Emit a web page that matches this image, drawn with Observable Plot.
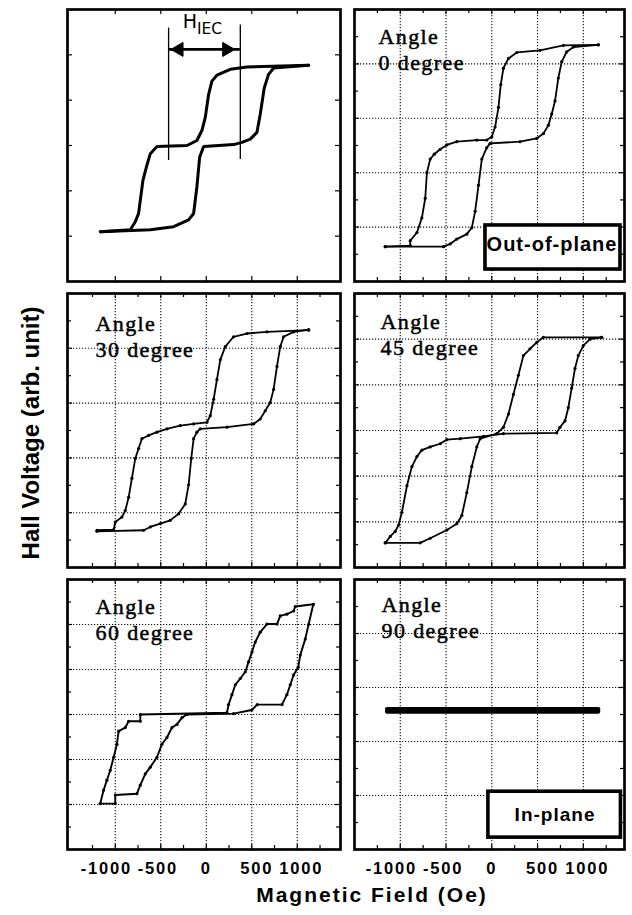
<!DOCTYPE html>
<html>
<head>
<meta charset="utf-8">
<script src="https://cdn.jsdelivr.net/npm/d3@7"></script>
<script src="https://cdn.jsdelivr.net/npm/@observablehq/plot@0.6"></script>
<style>
  html, body { margin: 0; padding: 0; background: #fff; }
  #fig { position: relative; width: 632px; height: 915px; overflow: hidden; background: #fff; }
  #fig .panel { position: absolute; }
  #fig svg { overflow: visible; }
  g[aria-description="ticklabel"] text { letter-spacing: 1.8px; }
  g[aria-description="anglelabel"] text { letter-spacing: 1.4px; }
  g[aria-description="boxlabel"] text { letter-spacing: 1px; }
  .title { position: absolute; font-family: "Liberation Sans", Arial, sans-serif; font-weight: bold; color: #000; white-space: nowrap; }
  #ytitle { left: 31px; top: 433px; font-size: 24px; line-height: 24px; transform: translate(-50%, -50%) rotate(-90deg); }
  #xtitle { left: 372px; top: 884px; font-size: 21px; line-height: 21px; letter-spacing: 2px; transform: translateX(-50%); }
</style>
</head>
<body>
<div id="fig"></div>
<script>
// ---------- tick values ----------
const xMajor = [-1000, -500, 0, 500, 1000];
const xMinor = [-1250, -750, -250, 250, 750, 1250];
const xTickText = ["-1000", "-500", "0", "500", "1000"];

// ---------- data: [field (Oe), Hall voltage (arb.)] ----------
// top-left panel (H_IEC definition)
const tlUp = [[-1165,1.10],[-835,1.14],[-780,1.32],[-744,1.50],[-725,1.79],[-696,2.23],[-659,2.52],[-615,2.82],[-542,2.98],[-212,3.00],[-103,3.11],[-48,3.33],[-11,3.62],[26,4.13],[62,4.42],[117,4.55],[264,4.68],[447,4.73],[1125,4.77]];
const tlDown = [[1125,4.77],[740,4.71],[685,4.57],[637,4.27],[593,3.69],[557,3.29],[484,3.14],[392,3.07],[300,3.02],[-29,2.98],[-73,2.74],[-103,2.09],[-139,1.50],[-194,1.36],[-359,1.21],[-615,1.14],[-1165,1.10]];
// angle 0
const a0Up = [[-1164,0.64],[-891,0.66],[-891,0.75],[-818,0.90],[-764,1.17],[-727,1.53],[-709,2.00],[-673,2.25],[-629,2.34],[-564,2.43],[-491,2.51],[-382,2.57],[-164,2.60],[-55,2.60],[0,2.66],[36,2.84],[73,3.20],[98,3.62],[127,3.92],[182,4.10],[273,4.21],[527,4.25],[782,4.34],[1164,4.35]];
const a0Down = [[1164,4.35],[891,4.31],[818,4.22],[764,4.04],[727,3.74],[691,3.32],[655,3.08],[618,2.87],[564,2.72],[491,2.63],[309,2.57],[-18,2.54],[-55,2.46],[-109,2.25],[-145,1.77],[-182,1.29],[-218,0.99],[-273,0.87],[-382,0.78],[-455,0.69],[-527,0.64],[-1164,0.64]];
// angle 30
const a30Up = [[-1201,0.68],[-1018,0.69],[-1000,0.83],[-927,0.92],[-890,1.04],[-853,1.28],[-817,1.63],[-780,1.99],[-744,2.17],[-707,2.35],[-634,2.41],[-542,2.47],[-432,2.53],[-286,2.59],[-139,2.62],[7,2.65],[44,2.77],[81,3.07],[117,3.43],[154,3.79],[209,4.03],[300,4.21],[447,4.27],[667,4.30],[1125,4.33]];
const a30Down = [[1125,4.34],[960,4.30],[850,4.21],[813,4.03],[777,3.67],[740,3.25],[703,3.01],[648,2.86],[593,2.71],[520,2.62],[227,2.56],[-66,2.53],[-103,2.47],[-139,2.35],[-165,1.99],[-194,1.51],[-231,1.16],[-304,0.98],[-396,0.86],[-505,0.80],[-615,0.74],[-689,0.68],[-1201,0.66]];
// angle 45
const a45Up = [[-1164,0.54],[-1109,0.68],[-1055,0.79],[-1018,0.93],[-982,1.21],[-927,1.79],[-873,2.21],[-818,2.43],[-764,2.57],[-673,2.64],[-564,2.71],[-491,2.80],[-345,2.82],[-91,2.87],[127,2.93],[709,2.95],[745,3.07],[800,3.21],[836,3.50],[873,3.93],[909,4.36],[945,4.64],[1000,4.86],[1073,5.00],[1200,5.04]];
const a45Down = [[1200,5.04],[564,5.04],[491,4.93],[418,4.79],[345,4.64],[291,4.21],[236,3.79],[182,3.36],[127,3.07],[55,2.93],[-127,2.82],[-164,2.64],[-218,2.21],[-273,1.64],[-327,1.14],[-382,0.96],[-491,0.82],[-673,0.64],[-782,0.54],[-1164,0.54]];
// angle 60
const a60Up = [[-1165,1.02],[-1000,1.02],[-1000,1.21],[-762,1.24],[-725,1.43],[-670,1.68],[-615,1.83],[-542,2.05],[-487,2.34],[-432,2.49],[-377,2.71],[-322,2.78],[-267,2.93],[-212,3.00],[300,3.02],[500,3.10],[560,3.22],[832,3.22],[886,3.44],[923,3.66],[960,3.88],[1010,4.05],[1033,4.32],[1088,4.68],[1124,5.00],[1176,5.45]];
const a60Down = [[1176,5.45],[978,5.40],[960,5.30],[886,5.23],[813,5.19],[777,5.01],[667,5.01],[593,4.83],[538,4.61],[502,4.39],[465,4.17],[429,3.95],[374,3.80],[319,3.66],[282,3.44],[245,3.22],[227,3.04],[-725,3.00],[-725,2.85],[-853,2.85],[-890,2.71],[-963,2.63],[-982,2.34],[-1018,2.05],[-1055,1.76],[-1092,1.54],[-1128,1.32],[-1165,1.02]];
// angle 90
const a90Up = [[-1145,2.60],[-600,2.60],[0,2.60],[600,2.60],[1164,2.60]];
const a90Down = [[1164,2.555],[600,2.555],[0,2.555],[-600,2.555],[-1145,2.555]];

// panel labels
const angleLabels = ["Angle\n0 degree", "Angle\n30 degree", "Angle\n45 degree", "Angle\n60 degree", "Angle\n90 degree"];

// H_IEC annotation (field, voltage)
const iecLines = [{h: -414, v1: 2.67, v2: 5.59}, {h: 374, v1: 2.69, v2: 5.66}];
const iecArrow = [{h1: -414, h2: 374, v: 5.12}];
const iecHeads = [{h: -300, v: 5.12, rot: -90}, {h: 225, v: 5.12, rot: 90}];
const iecText = [{h: -102, v: 5.59, t: "H"}];
const iecSub = [{h: -102, v: 5.45, t: "IEC"}];

// boxed notes
const outOfPlaneBox = [{h1: -69, h2: 1406, v1: 0.22, v2: 1.03, hc: 658, vt: 0.56, label: "Out-of-plane"}];
const inPlaneBox = [{h1: -37, h2: 1411, v1: 0.22, v2: 1.07, hc: 691, vt: 0.52, label: "In-plane"}];

// ---------- layout / style ----------
const tickTextShift = [-9, -3, 0, 5, 4];
const panels = [
  {left: 67,  top: 9,   w: 273, h: 272, xd: [-1525, 1475], yd: [0, 6], grid: false, up: tlUp,  down: tlDown,  sw: 3.0, label: null, iec: true},
  {left: 354, top: 9,   w: 270, h: 272, xd: [-1500, 1450], yd: [0, 5], grid: true,  up: a0Up,  down: a0Down,  sw: 1.8, dots: true, label: angleLabels[0], dx: 24, dy: 15, box: outOfPlaneBox, bfs: 20},
  {left: 67,  top: 293, w: 273, h: 274, xd: [-1525, 1475], yd: [0, 5], grid: true,  up: a30Up, down: a30Down, sw: 1.8, dots: true, label: angleLabels[1], dx: 28, dy: 18},
  {left: 354, top: 293, w: 270, h: 274, xd: [-1500, 1450], yd: [0, 6], grid: true,  up: a45Up, down: a45Down, sw: 1.8, dots: true, label: angleLabels[2], dx: 26, dy: 16},
  {left: 67,  top: 579, w: 273, h: 270, xd: [-1525, 1475], yd: [0, 6], grid: true,  up: a60Up, down: a60Down, sw: 1.9, dots: true, label: angleLabels[3], dx: 28, dy: 15, xaxis: true},
  {left: 354, top: 579, w: 270, h: 270, xd: [-1500, 1450], yd: [0, 5], grid: true,  up: a90Up, down: a90Down, sw: 4.2, label: angleLabels[4], dx: 27, dy: 13, xaxis: true, box: inPlaneBox, bfs: 19}
];

const fig = document.getElementById("fig");
const M = 4;

function makePanel(p) {
  const mb = p.xaxis ? 36 : M;
  const yMajor = d3.range(p.yd[0] + 1, p.yd[1]);
  const yMinor = d3.range(p.yd[0] + 0.5, p.yd[1], 1);
  const marks = [];
  if (p.grid) {
    marks.push(Plot.ruleX(xMajor, {x: d => d, stroke: "#111", strokeWidth: 1.1, strokeDasharray: "1.2,1.8"}));
    marks.push(Plot.ruleY(yMajor, {y: d => d, stroke: "#111", strokeWidth: 1.1, strokeDasharray: "1.2,1.8"}));
  }
  const tickSets = p.grid ? [[xMajor, yMajor, 5], [xMinor, yMinor, 4]] : [[xMajor, yMajor, 5]];
  for (const [xs, ys, len] of tickSets) {
    marks.push(Plot.tickX(xs, {x: d => d, insetTop: p.h - len, stroke: "black", strokeWidth: 1.2}));
    marks.push(Plot.tickX(xs, {x: d => d, insetBottom: p.h - len, stroke: "black", strokeWidth: 1.2}));
    marks.push(Plot.tickY(ys, {y: d => d, insetRight: p.w - len, stroke: "black", strokeWidth: 1.2}));
    marks.push(Plot.tickY(ys, {y: d => d, insetLeft: p.w - len, stroke: "black", strokeWidth: 1.2}));
  }
  if (p.label) {
    marks.push(Plot.text([p.label], {
      text: d => d, frameAnchor: "top-left", textAnchor: "start", lineAnchor: "top",
      dx: p.dx, dy: p.dy, lineHeight: 1.22, fontSize: 22, fontFamily: "'Liberation Serif', 'Times New Roman', serif",
      fill: "black", stroke: "black", strokeWidth: 0.5, ariaDescription: "anglelabel"
    }));
  }
  if (p.box) {
    marks.push(Plot.rect(p.box, {x1: "h1", x2: "h2", y1: "v1", y2: "v2", fill: "white", stroke: "black", strokeWidth: 3.6}));
    marks.push(Plot.text(p.box, {x: "hc", y: "vt", text: "label", lineAnchor: "bottom", fontSize: p.bfs, fontWeight: "bold",
      fontFamily: "'Liberation Sans', Arial, sans-serif", fill: "black", ariaDescription: "boxlabel"}));
  }
  if (p.iec) {
    marks.push(Plot.ruleX(iecLines, {x: "h", y1: "v1", y2: "v2", stroke: "black", strokeWidth: 1.3}));
    marks.push(Plot.ruleY(iecArrow, {y: "v", x1: "h1", x2: "h2", stroke: "black", strokeWidth: 2.6}));
    marks.push(Plot.dot(iecHeads, {x: "h", y: "v", rotate: "rot", symbol: "triangle", r: 5.2, fill: "black", stroke: "black", strokeWidth: 1}));
    marks.push(Plot.text(iecText, {x: "h", y: "v", text: "t", textAnchor: "end", lineAnchor: "bottom", fontSize: 19,
      fontFamily: "'DejaVu Sans', sans-serif", fill: "black"}));
    marks.push(Plot.text(iecSub, {x: "h", y: "v", text: "t", textAnchor: "start", lineAnchor: "bottom", fontSize: 15.5,
      fontFamily: "'DejaVu Sans', sans-serif", fill: "black"}));
  }
  marks.push(Plot.line(p.up, {x: d => d[0], y: d => d[1], stroke: "black", strokeWidth: p.sw, strokeLinejoin: "miter"}));
  marks.push(Plot.line(p.down, {x: d => d[0], y: d => d[1], stroke: "black", strokeWidth: p.sw, strokeLinejoin: "miter"}));
  if (p.dots) {
    marks.push(Plot.dot(p.up.concat(p.down), {x: d => d[0], y: d => d[1], r: 1.6, fill: "black", stroke: "none"}));
  }
  if (p.xaxis) {
    xMajor.forEach((v, i) => {
      marks.push(Plot.text([v], {x: d => d, text: () => xTickText[i], frameAnchor: "bottom", lineAnchor: "top", dy: 13, dx: tickTextShift[i],
        fontSize: 16.5, fontWeight: "bold", fontFamily: "'Liberation Sans', Arial, sans-serif", fill: "black", ariaDescription: "ticklabel"}));
    });
  }
  marks.push(Plot.frame({stroke: "black", strokeWidth: 2.7}));

  const svg = Plot.plot({
    width: p.w + 2 * M,
    height: p.h + M + mb,
    marginLeft: M, marginRight: M, marginTop: M, marginBottom: mb,
    x: {domain: p.xd, axis: null},
    y: {domain: p.yd, axis: null},
    style: {background: "transparent", overflow: "visible"},
    marks
  });
  const wrap = document.createElement("div");
  wrap.className = "panel";
  wrap.style.left = (p.left - M) + "px";
  wrap.style.top = (p.top - M) + "px";
  wrap.appendChild(svg);
  fig.appendChild(wrap);
}

panels.forEach(makePanel);

const yt = document.createElement("div");
yt.className = "title"; yt.id = "ytitle"; yt.textContent = "Hall Voltage (arb. unit)";
fig.appendChild(yt);
const xt = document.createElement("div");
xt.className = "title"; xt.id = "xtitle"; xt.textContent = "Magnetic Field (Oe)";
fig.appendChild(xt);
</script>
</body>
</html>
